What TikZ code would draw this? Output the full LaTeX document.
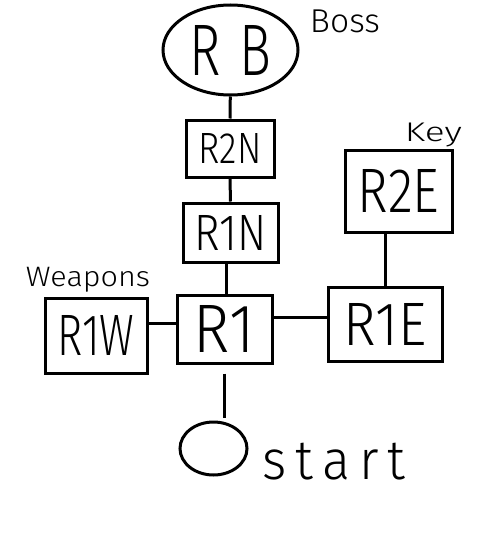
\documentclass[tikz,border=0pt]{standalone}
\usepackage{fontspec}
\newfontfamily\hand{Fira Sans Light}
\usepackage{graphicx}
\usetikzlibrary{shapes.geometric,calc}
\newcommand{\hw}[3]{\resizebox*{#1pt}{#2pt}{\hand #3}}
\begin{document}
\begin{tikzpicture}[x=1pt,y=-1pt,line width=3pt,
  room/.style={draw,rectangle,inner sep=0pt},
  blob/.style={draw,ellipse,inner sep=0pt},
  lbl/.style={inner sep=0pt}]
\fill[white] (0,0) rectangle (503,538);
\useasboundingbox (0,0) rectangle (503,538);
% rooms
\node[blob,minimum width=135pt,minimum height=90pt] (rb) at (230.5,50) {\hw{81}{50}{R\,\,B}};
\node[room,minimum width=88pt,minimum height=57pt] (r2n) at (230,148.5) {\hw{63}{30}{R2N}};
\node[room,minimum width=95pt,minimum height=59pt] (r1n) at (230.5,232.5) {\hw{72}{35}{R1N}};
\node[room,minimum width=95pt,minimum height=68pt] (r1) at (224.5,329) {\hw{61}{47}{R1}};
\node[room,minimum width=102pt,minimum height=75pt] (r1w) at (96,335.5) {\hw{77}{40}{R1W}};
\node[room,minimum width=114pt,minimum height=74pt] (r1e) at (385,324) {\hw{83}{42}{R1E}};
\node[room,minimum width=107pt,minimum height=82pt] (r2e) at (398.5,191) {\hw{82}{43}{R2E}};
\node[blob,minimum width=67pt,minimum height=53pt] (st) at (213.5,448.5) {};
% labels
\node[lbl] (boss) at (345,21.5) {\hw{70}{23}{Boss}};
\node[lbl] (key) at (433.5,135) {\hw{57}{24}{Key}};
\node[lbl] (weap) at (88,279.5) {\hw{124}{25}{Weapons}};
\node[lbl] (start) at (334,461.5) {\hw{142}{37}{s\,t\,a\,r\,t}};
% connectors
\draw (rb) -- (r2n);
\draw (r2n) -- (r1n);
\draw ([xshift=-4pt]r1n.south) -- ([xshift=-4pt]r1n.south |- r1.north);
\draw ([yshift=6pt]r1.west) -- ([yshift=6pt]r1.west -| r1w.east);
\draw ([yshift=12pt]r1.east) -- ([yshift=12pt]r1.east -| r1e.west);
\draw (r2e.south -| r1e.north) -- (r1e.north);
\draw[shorten <=9pt,shorten >=3pt] (r1.south) -- (r1.south |- st.north);
\end{tikzpicture}
\end{document}
